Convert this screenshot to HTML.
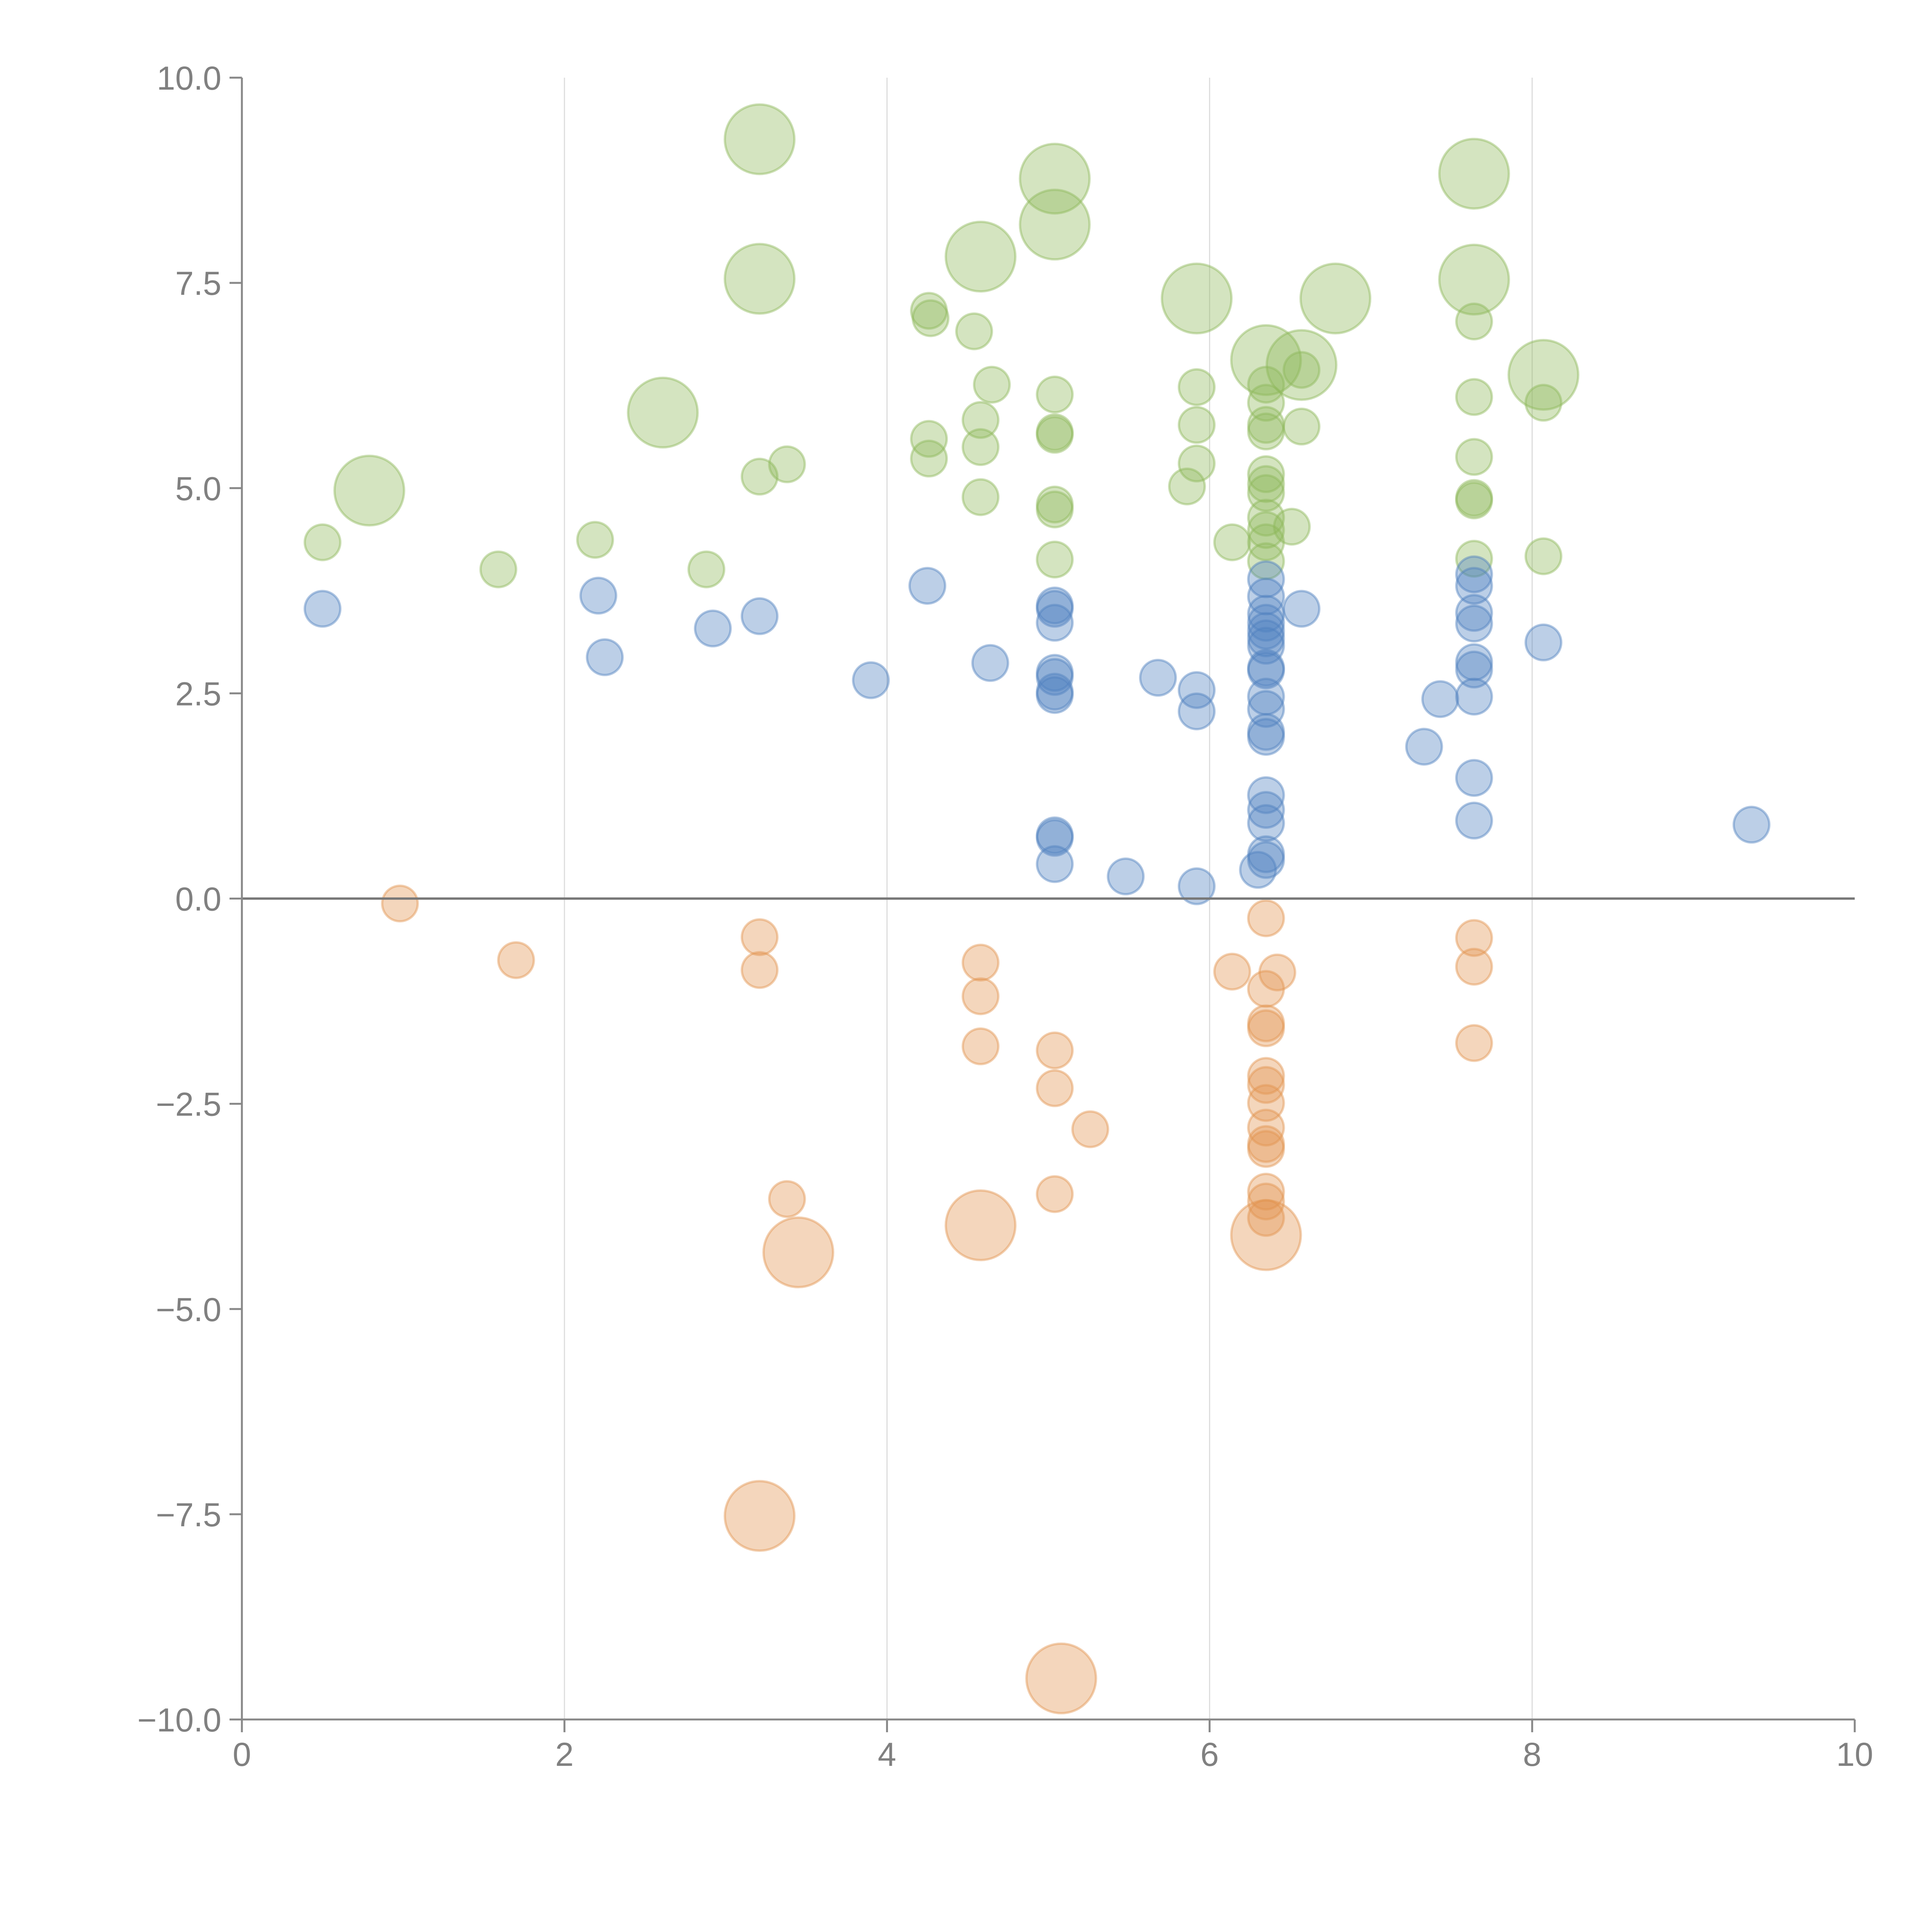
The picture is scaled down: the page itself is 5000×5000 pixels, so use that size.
<!DOCTYPE html>
<html><head><meta charset="utf-8"><style>html,body{margin:0;padding:0;background:#fff}svg{display:block}</style></head>
<body>
<svg id="chart" width="5000" height="5000" xmlns="http://www.w3.org/2000/svg" font-family="Liberation Sans, sans-serif"></svg>
<script>
const xTicks=[0,2,4,6,8,10];
const xTickLabels=["0","2","4","6","8","10"];
const yTicks=[10,7.5,5,2.5,0,-2.5,-5,-7.5,-10];
const yTickLabels=["10.0","7.5","5.0","2.5","0.0","\u22122.5","\u22125.0","\u22127.5","\u221210.0"];
const greenX=[0.5,0.79,1.59,2.19,2.61,2.88,3.21,3.21,3.21,3.38,4.26,4.27,4.54,4.58,4.65,4.26,4.26,4.58,4.58,4.58,5.04,5.04,5.04,5.04,5.04,5.04,5.04,5.04,5.92,5.92,5.92,5.92,5.86,6.14,6.35,6.57,6.78,6.35,6.35,6.35,6.35,6.35,6.35,6.35,6.35,6.35,6.35,6.35,6.51,6.57,6.57,7.64,7.64,7.64,7.64,7.64,7.64,7.64,7.64,8.07,8.07,8.07];
const greenY=[4.34,4.97,4.01,4.37,5.92,4.01,9.25,7.55,5.14,5.29,7.16,7.07,6.91,7.82,6.26,5.60,5.36,5.83,5.50,4.89,8.77,8.21,6.14,5.68,5.65,4.80,4.74,4.13,7.31,6.23,5.77,5.30,5.02,4.34,6.56,6.50,7.31,6.26,6.04,5.77,5.69,5.17,5.05,4.94,4.64,4.49,4.34,4.11,4.53,6.44,5.75,8.83,7.54,7.03,6.11,5.38,4.88,4.85,4.14,6.38,6.04,4.17];
const greenBig=[0,1,0,0,1,0,1,1,0,0,0,0,0,1,0,0,0,0,0,0,1,1,0,0,0,0,0,0,1,0,0,0,0,0,1,1,1,0,0,0,0,0,0,0,0,0,0,0,0,0,0,1,1,0,0,0,0,0,0,1,0,0];
const blueX=[0.5,2.21,2.25,2.92,3.21,3.90,4.25,4.64,5.04,5.04,5.04,5.04,5.04,5.04,5.04,5.04,5.04,5.04,5.48,5.68,5.92,5.92,5.92,6.30,6.35,6.35,6.35,6.35,6.35,6.35,6.35,6.35,6.35,6.35,6.35,6.35,6.35,6.35,6.35,6.35,6.35,6.35,6.57,7.33,7.43,7.64,7.64,7.64,7.64,7.64,7.64,7.64,7.64,7.64,8.07,9.36];
const blueY=[3.53,3.69,2.94,3.29,3.44,2.66,3.81,2.87,3.57,3.53,3.36,2.75,2.70,2.52,2.48,0.77,0.74,0.42,0.27,2.69,2.54,2.28,0.15,0.35,3.89,3.68,3.47,3.36,3.26,3.17,3.08,2.81,2.78,2.46,2.31,2.03,1.97,1.26,1.08,0.92,0.54,0.47,3.53,1.85,2.43,3.95,3.81,3.48,3.35,2.88,2.79,2.46,1.47,0.95,3.12,0.90];
const orangeX=[0.98,1.70,3.21,3.21,3.38,3.45,3.21,4.58,4.58,4.58,4.58,5.04,5.04,5.04,5.26,5.08,6.14,6.35,6.35,6.35,6.35,6.35,6.35,6.35,6.35,6.35,6.35,6.35,6.35,6.35,6.42,6.35,7.64,7.64,7.64];
const orangeY=[-0.06,-0.75,-0.47,-0.87,-3.66,-4.31,-7.52,-0.78,-1.19,-1.80,-3.98,-1.85,-2.31,-3.60,-2.81,-9.50,-0.89,-0.24,-1.10,-1.52,-1.58,-2.16,-2.27,-2.49,-2.79,-2.99,-3.05,-3.57,-3.69,-3.89,-0.90,-4.10,-0.48,-0.83,-1.76];
const orangeBig=[0,0,0,0,0,1,1,0,0,0,1,0,0,0,0,1,0,0,0,0,0,0,0,0,0,0,0,0,0,0,0,1,0,0,0];

const NS="http://www.w3.org/2000/svg";
const svg=document.getElementById('chart');
const X0=626,X1=4800,Y0=4450,Y1=201;
const sx=v=>X0+(v-0)/(10-0)*(X1-X0);
const sy=v=>Y0-(v+10)/20*(Y0-Y1);
function mk(tag,attrs,parent){const e=document.createElementNS(NS,tag);for(const k in attrs)e.setAttribute(k,attrs[k]);(parent||svg).appendChild(e);return e;}

const grid=mk('g',{});


[2,4,6,8].forEach(v=>{const l=mk('line',{x1:sx(v),x2:sx(v),y1:Y1,y2:Y0,stroke:'#dddddd','stroke-width':3},grid);

});

function series(name,xs,ys,big,color){
  const g=mk('g',{});
  
  
  xs.forEach((x,i)=>{
    const r=(big&&big[i])?90:46;
    const c=mk('circle',{cx:sx(x),cy:sy(ys[i]),r:r,fill:color,'fill-opacity':0.38,stroke:color,'stroke-opacity':0.45,'stroke-width':6},g);
    
    
  });
}
series('green',greenX,greenY,greenBig,'#8fb85a');
series('blue',blueX,blueY,null,'#4f81bf');
series('orange',orangeX,orangeY,orangeBig,'#e39450');

const zl=mk('line',{x1:X0,x2:X1,y1:sy(0),y2:sy(0),stroke:'#777','stroke-width':6});



const ax=mk('g',{stroke:'#888','stroke-width':5,fill:'none'});


mk('line',{x1:X0,x2:X0,y1:Y1,y2:Y0},ax);
mk('line',{x1:X0,x2:X1,y1:Y0,y2:Y0},ax);

const yl=mk('g',{fill:'#808080','font-size':86,'text-anchor':'end'});


yTicks.forEach((v,i)=>{
  mk('line',{x1:X0-32,x2:X0,y1:sy(v),y2:sy(v),stroke:'#888','stroke-width':5},yl);
  const t=mk('text',{x:573,y:sy(v)+31},yl);t.textContent=yTickLabels[i];
  
  
});
const xl=mk('g',{fill:'#808080','font-size':86,'text-anchor':'middle'});


xTicks.forEach((v,i)=>{
  mk('line',{x1:sx(v),x2:sx(v),y1:Y0,y2:Y0+33,stroke:'#888','stroke-width':5},xl);
  const t=mk('text',{x:sx(v),y:4570},xl);t.textContent=xTickLabels[i];
  
  
});
</script>
</body></html>
